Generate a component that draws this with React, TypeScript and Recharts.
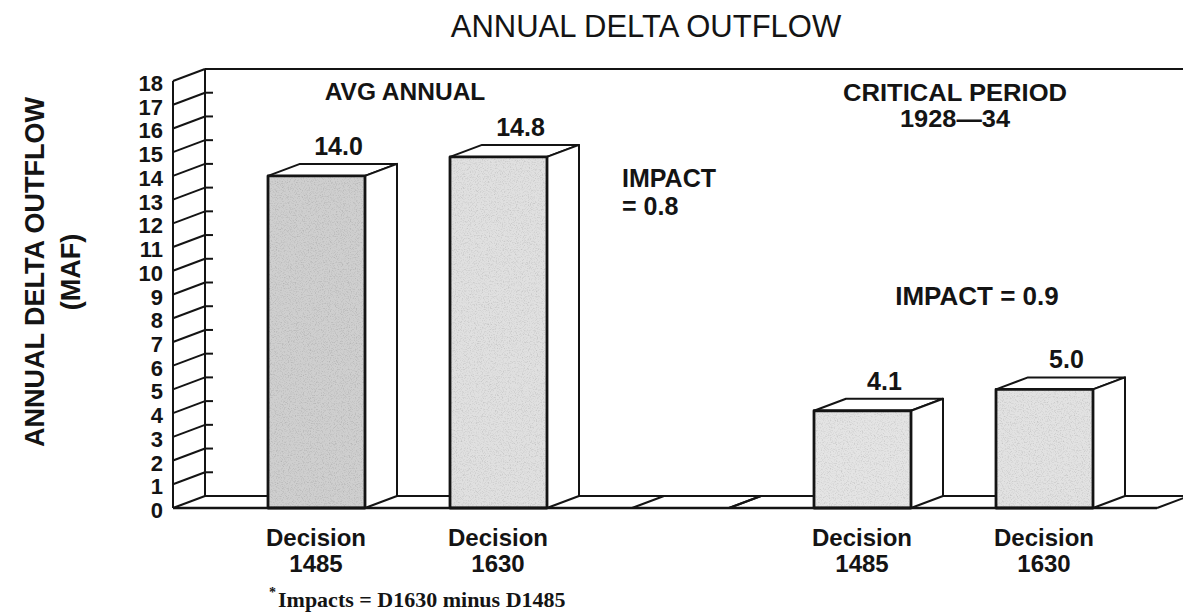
import React from 'react';
import { BarChart, Bar, XAxis, YAxis, ReferenceArea, LabelList, Cell } from 'recharts';

// decision labels per slot ('' = empty spacer slot between the two groups)
const categories = ['1485', '1630', '', '1485', '1630'];
const outflow = [14.0, 14.8, 0, 4.1, 5.0];
const faceColors = ['#cfcfcf', '#e0e0e0', '#ffffff', '#e4e4e4', '#e2e2e2'];
const grainAmount = [0.95, 0.6, 0, 0.55, 0.6];
const yTicks = [0, 1, 2, 3, 4, 5, 6, 7, 8, 9, 10, 11, 12, 13, 14, 15, 16, 17, 18];

const data = categories.map((decision, i) => ({ decision, outflow: outflow[i] }));

const W = 1183;
const H = 615;
const DX = 32; // depth offset of the 3d look
const DY = 12;
const PAD_L = 52;
const PAD_R = 22;
const INK = '#141414';
const SANS = '"Liberation Sans", Arial, Helvetica, sans-serif';
const SERIF = '"Liberation Serif", "Times New Roman", serif';

const Bar3D = (props: any) => {
  const { x, y, width, height, fill, index } = props;
  const r = x + width;
  const b = y + height;
  return (
    <g stroke={INK} strokeLinejoin="round">
      <polygon
        points={`${x},${y} ${x + DX},${y - DY} ${r + DX},${y - DY} ${r},${y}`}
        fill="#fff"
        strokeWidth={2}
      />
      <polygon
        points={`${r},${y} ${r + DX},${y - DY} ${r + DX},${b - DY} ${r},${b}`}
        fill="#fff"
        strokeWidth={2}
      />
      {height > 0 && (
        <g>
          <rect x={x} y={y} width={width} height={height} fill={fill} stroke="none" />
          <rect
            x={x}
            y={y}
            width={width}
            height={height}
            fill="#000"
            stroke="none"
            filter="url(#grain)"
            opacity={grainAmount[index] ?? 0.6}
          />
          <rect x={x} y={y} width={width} height={height} fill="none" strokeWidth={2.8} />
        </g>
      )}
    </g>
  );
};

// back wall + floor, drawn from the plot rectangle (the area starts inside the axis padding)
const Walls = (props: any) => {
  const { x, y, width, height } = props;
  const left = x - PAD_L;
  const right = x + width + PAD_R;
  const bx = left + DX;
  const top = y - DY;
  const floor = y + height;
  return (
    <g stroke={INK} strokeWidth={2} fill="none">
      <line x1={bx} y1={top} x2={bx} y2={floor - DY} />
      <line x1={bx} y1={top} x2={W} y2={top} />
      <line x1={bx} y1={floor - DY} x2={right + DX} y2={floor - DY} />
      <line x1={right} y1={floor} x2={right + DX} y2={floor - DY} />
    </g>
  );
};

const YTick = (props: any) => {
  const { x, y, payload } = props;
  const v = payload.value;
  return (
    <g>
      <line x1={x} y1={y} x2={x + DX} y2={y - DY} stroke={INK} strokeWidth={2} />
      {v > 0 && v < 18 && (
        <line x1={x + DX} y1={y - DY} x2={x + DX + 8} y2={y - DY} stroke={INK} strokeWidth={2} />
      )}
      <text x={x - 10} y={y + 10} textAnchor="end" fontSize={22} fontWeight="bold" fontFamily={SANS} fill={INK}>
        {v}
      </text>
    </g>
  );
};

const XTick = (props: any) => {
  const { x, y, payload } = props;
  if (!payload.value) return <g />;
  return (
    <g fontFamily={SANS} fontSize={24} fontWeight="bold" fill={INK} textAnchor="middle">
      <text x={x} y={y + 38}>Decision</text>
      <text x={x} y={y + 64}>{payload.value}</text>
    </g>
  );
};

const ValueLabel = (props: any) => {
  const { x, y, width, value } = props;
  if (!value) return null;
  return (
    <text
      x={x + width / 2 + 22}
      y={y - 21}
      textAnchor="middle"
      fontSize={25}
      fontWeight="bold"
      fontFamily={SANS}
      fill={INK}
    >
      {Number(value).toFixed(1)}
    </text>
  );
};

export default function App() {
  return (
    <div style={{ position: 'absolute', left: 0, top: 0, width: W, height: H, background: '#fff' }}>
      <svg width={0} height={0} style={{ position: 'absolute' }}>
        <defs>
          <filter id="grain" x="0%" y="0%" width="100%" height="100%">
            <feTurbulence type="fractalNoise" baseFrequency="0.85" numOctaves="2" seed="7" result="noise" />
            <feColorMatrix
              in="noise"
              type="matrix"
              values="0 0 0 0 0.45  0 0 0 0 0.45  0 0 0 0 0.45  2.6 0 0 0 -1.25"
              result="dots"
            />
            <feComposite in="dots" in2="SourceAlpha" operator="in" />
          </filter>
        </defs>
      </svg>
      <BarChart
        width={W}
        height={H}
        data={data}
        margin={{ top: 81, right: 26, bottom: 0, left: 113 }}
        barSize={97}
      >
        <XAxis
          dataKey="decision"
          height={107}
          interval={0}
          tickLine={false}
          tickSize={0}
          tickMargin={0}
          axisLine={{ stroke: INK, strokeWidth: 2.5 }}
          padding={{ left: PAD_L, right: PAD_R }}
          tick={<XTick />}
        />
        <YAxis
          width={60}
          domain={[0, 18]}
          ticks={yTicks}
          interval={0}
          tickLine={false}
          tickSize={0}
          tickMargin={0}
          axisLine={{ stroke: INK, strokeWidth: 2 }}
          tick={<YTick />}
        />
        <ReferenceArea y1={0} y2={18} shape={<Walls />} />
        <Bar dataKey="outflow" shape={<Bar3D />} isAnimationActive={false}>
          {data.map((d, i) => (
            <Cell key={i} fill={faceColors[i]} />
          ))}
          <LabelList dataKey="outflow" content={<ValueLabel />} />
        </Bar>
      </BarChart>
      <svg
        width={W}
        height={H}
        style={{ position: 'absolute', left: 0, top: 0, pointerEvents: 'none' }}
        fontFamily={SANS}
        fill={INK}
      >
        <text x={646} y={37} textAnchor="middle" fontSize={31}>
          ANNUAL DELTA OUTFLOW
        </text>
        <text x={405} y={100} textAnchor="middle" fontSize={24.5} fontWeight="bold">
          AVG ANNUAL
        </text>
        <text
          x={955}
          y={101}
          textAnchor="middle"
          fontSize={23}
          fontWeight="bold"
          textLength={224}
          lengthAdjust="spacingAndGlyphs"
        >
          CRITICAL PERIOD
        </text>
        <text
          x={955}
          y={127}
          textAnchor="middle"
          fontSize={23}
          fontWeight="bold"
          textLength={110}
          lengthAdjust="spacingAndGlyphs"
        >
          1928—34
        </text>
        <text x={622} y={187} fontSize={25} fontWeight="bold">
          IMPACT
        </text>
        <text x={622} y={215} fontSize={25} fontWeight="bold">
          = 0.8
        </text>
        <text x={977} y={305} textAnchor="middle" fontSize={26} fontWeight="bold">
          IMPACT = 0.9
        </text>
        <text transform="translate(44 272) rotate(-90)" textAnchor="middle" fontSize={27} fontWeight="bold">
          ANNUAL DELTA OUTFLOW
        </text>
        <text transform="translate(80 272) rotate(-90)" textAnchor="middle" fontSize={27} fontWeight="bold">
          (MAF)
        </text>
        <text x={269} y={597} fontSize={14} fontWeight="bold" fontFamily={SERIF}>
          *
        </text>
        <text x={278} y={607} fontSize={22} fontWeight="bold" fontFamily={SERIF}>
          Impacts = D1630 minus D1485
        </text>
      </svg>
    </div>
  );
}
